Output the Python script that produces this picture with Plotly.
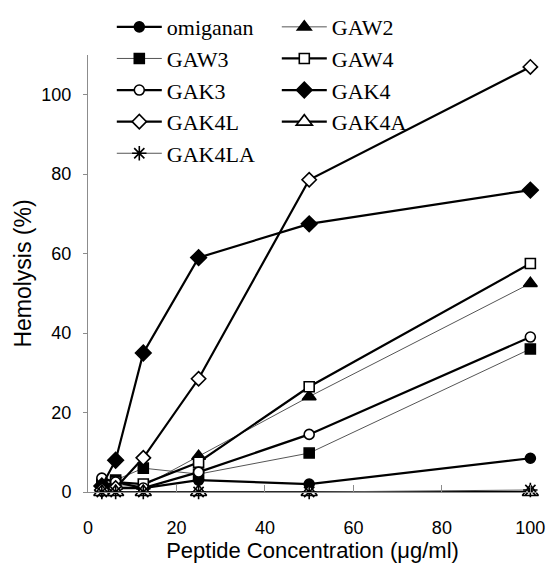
import plotly.graph_objects as go

conc = [3.125, 6.25, 12.5, 25, 50, 100]

names = ["omiganan", "GAW2", "GAW3", "GAW4", "GAK3", "GAK4", "GAK4L", "GAK4A", "GAK4LA"]
omiganan = [1.5, 1.0, 1.0, 3.0, 2.0, 8.5]
gaw2 = [1.0, 1.5, 1.5, 9.0, 24.0, 52.5]
gaw3 = [2.0, 3.0, 6.0, 4.5, 9.8, 36.0]
gaw4 = [1.5, 2.5, 2.0, 7.5, 26.5, 57.5]
gak3 = [3.5, 2.5, 1.0, 5.0, 14.5, 39.0]
gak4 = [1.5, 8.0, 35.0, 59.0, 67.5, 76.0]
gak4l = [0.5, 1.0, 8.6, 28.5, 78.6, 107.0]
gak4a = [0.0, 0.0, 0.0, 0.0, 0.0, 0.0]
gak4la = [0.0, 0.0, 0.0, 0.0, 0.0, 0.5]

series = [omiganan, gaw2, gaw3, gaw4, gak3, gak4, gak4l, gak4a, gak4la]

styles = [
    dict(symbol="circle", size=10, fill="black", lw=2.2, lc="black"),
    dict(symbol="triangle-up", size=12, fill="black", lw=1, lc="#555555"),
    dict(symbol="square", size=10, fill="black", lw=1, lc="#555555"),
    dict(symbol="square", size=10, fill="white", lw=2.2, lc="black"),
    dict(symbol="circle", size=10, fill="white", lw=2.2, lc="black"),
    dict(symbol="diamond", size=12, fill="black", lw=2.2, lc="black"),
    dict(symbol="diamond", size=11, fill="white", lw=2.2, lc="black"),
    dict(symbol="triangle-up", size=14, fill="white", lw=2.2, lc="black"),
    dict(symbol="asterisk-open", size=12, fill="black", lw=1, lc="#555555"),
]

fig = go.Figure()
for name, vals, st in zip(names, series, styles):
    fig.add_trace(go.Scatter(
        x=conc, y=vals, name=name, mode="lines+markers",
        line=dict(color=st["lc"], width=st["lw"]),
        marker=dict(symbol=st["symbol"], size=st["size"], color=st["fill"],
                    line=dict(color="black", width=1.6)),
        cliponaxis=False,
    ))

fig.update_layout(
    width=557, height=567,
    margin=dict(l=88, r=20, t=55, b=75, autoexpand=False),
    paper_bgcolor="white", plot_bgcolor="white",
    showlegend=True,
    legend=dict(
        orientation="h", x=0.053, xanchor="left", y=1.112, yanchor="top",
        entrywidth=105, entrywidthmode="pixels", itemwidth=45,
        bgcolor="rgba(0,0,0,0)", borderwidth=0,
        font=dict(family="Liberation Serif", size=22, color="black"),
        traceorder="normal",
    ),
    font=dict(family="Liberation Sans", color="black"),
)
fig.update_xaxes(
    range=[0, 101.5], showgrid=False, zeroline=False,
    showline=True, linecolor="#8c8c8c", linewidth=1,
    ticks="inside", ticklen=7, tickcolor="#8c8c8c",
    tickvals=[0, 20, 40, 60, 80, 100],
    ticklabelstandoff=19,
    tickfont=dict(size=18, family="Liberation Sans"),
    title=dict(text="Peptide Concentration (μg/ml)", font=dict(size=22, family="Liberation Sans"), standoff=3),
)
fig.update_yaxes(
    range=[0, 110], showgrid=False, zeroline=False,
    showline=True, linecolor="#8c8c8c", linewidth=1,
    ticks="outside", ticklen=4, tickcolor="#8c8c8c",
    tickvals=[0, 20, 40, 60, 80, 100],
    ticklabelstandoff=8,
    tickfont=dict(size=18, family="Liberation Sans"),
    title=dict(text="Hemolysis (%)", font=dict(size=23, family="Liberation Sans"), standoff=3),
)

fig.write_html(
    "out.html",
    config={"displayModeBar": False},
    post_script="document.body.style.margin='0';document.body.style.overflow='hidden';",
)
